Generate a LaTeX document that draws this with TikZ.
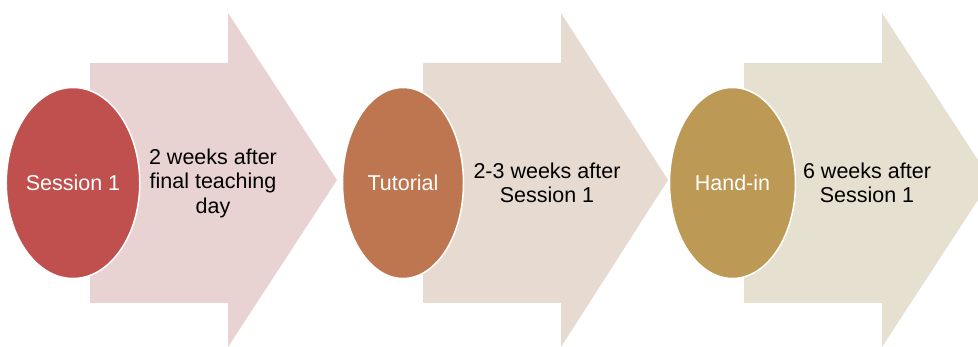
\documentclass[tikz,border=0pt]{standalone}
\usepackage{fontspec}
\setmainfont{Liberation Sans}
\usetikzlibrary{shapes.geometric}
\definecolor{arA}{HTML}{E8D3D2}
\definecolor{arB}{HTML}{E6DAD1}
\definecolor{arC}{HTML}{E5E0CF}
\definecolor{elA}{HTML}{C0504D}
\definecolor{elB}{HTML}{BE7650}
\definecolor{elC}{HTML}{BC9954}
\begin{document}
\begin{tikzpicture}[x=1pt,y=-1pt,
  oval/.style={ellipse,draw=white,line width=1.5pt,minimum width=127pt,minimum height=191pt,inner sep=0pt,
    font=\fontsize{21.5}{25}\selectfont,text=white},
  lbl/.style={align=center,font=\fontsize{21.5}{24.5}\selectfont,text=black,inner sep=0pt}]
\useasboundingbox (0,0) rectangle (978,347);
\clip (0,0) rectangle (978,347);
\fill[white] (0,0) rectangle (978,347);
% arrows
\fill[arA] (90,63) -- (228,63) -- (228,13) -- (337,180) -- (228,347) -- (228,303) -- (90,303) -- cycle;
\fill[arB] (423,63) -- (561,63) -- (561,13) -- (668,180) -- (561,347) -- (561,303) -- (423,303) -- cycle;
\fill[arC] (744,63) -- (882,63) -- (882,13) -- (991,180) -- (882,347) -- (882,303) -- (744,303) -- cycle;
% ellipses
\node[oval,fill=elA,minimum width=127pt] (e1) at (73,183) {Session 1};
\node[oval,fill=elB,minimum width=121pt] (e2) at (403,183) {Tutorial};
\node[oval,fill=elC,minimum width=126pt] (e3) at (732.5,183) {Hand-in};
% labels
\node[lbl] (t1) at (213,183) {2 weeks after\\final teaching\\day};
\node[lbl] (t2) at (547,183) {2-3 weeks after\\Session 1};
\node[lbl] (t3) at (867,183) {6 weeks after\\Session 1};
\end{tikzpicture}
\end{document}
